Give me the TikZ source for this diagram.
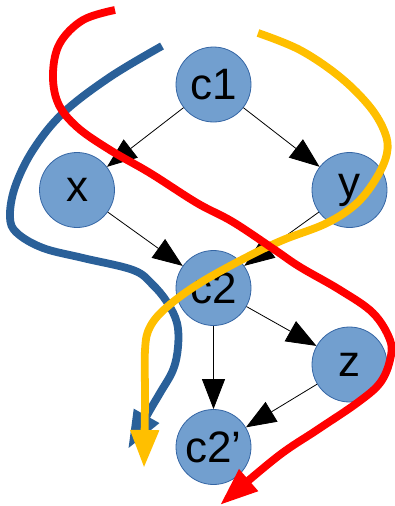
\documentclass[tikz,border=0pt]{standalone}
\usepackage{fontspec}
\setmainfont{Liberation Sans}
\usetikzlibrary{arrows.meta}
\definecolor{nodefill}{HTML}{729FCF}
\definecolor{nodeline}{HTML}{3465A4}
\definecolor{curveblue}{HTML}{2A6099}
\definecolor{curvegold}{HTML}{FFBF00}
\definecolor{curvered}{HTML}{FF0000}
\tikzset{
  vnode/.style={circle, fill=nodefill, draw=nodeline, line width=0.8pt, minimum size=75pt, inner sep=0pt, font=\fontsize{44}{44}\selectfont},
  edgearrow/.style={line width=0.8pt, -{Triangle[length=30pt,width=23pt]}, shorten >=0pt},
  bigcurve/.style={line width=7.8pt, -{Triangle[length=38pt,width=27pt]}},
}
\begin{document}
\begin{tikzpicture}[x=1pt,y=-1pt]
\useasboundingbox (0,0) rectangle (395,506);
\node[vnode] (c1) at (213.5,84.5) {c1};
\node[vnode] (x) at (77,190) {x};
\node[vnode] (y) at (349.5,190) {y};
\node[vnode] (c2) at (213.5,288) {c2};
\node[vnode] (z) at (349.5,364.5) {z};
\node[vnode] (c2p) at (213.5,447) {c2’};
\draw[edgearrow] (c1) -- (x);
\draw[edgearrow] (c1) -- (y);
\draw[edgearrow] (x) -- (c2);
\draw[edgearrow] (y) -- (c2);
\draw[edgearrow] (c2) -- (z);
\draw[edgearrow] (c2) -- (c2p);
\draw[edgearrow] (z) -- (c2p);
% blue curve
\draw[bigcurve, curveblue] plot[smooth, tension=0.6] coordinates {(162,46) (110,77) (63,113) (33,150) (15,187) (10,217) (17,233) (43,248) (83,258) (133,270) (152,284) (167,302) (177,323) (178,347) (173,370) (160,393) (150,410) (128,449)};
% gold curve
\draw[bigcurve, curvegold] plot[smooth, tension=0.6] coordinates {(258,33) (300,50) (340,77) (370,107) (385,133) (387,153) (377,177) (357,203) (327,223) (283,240) (247,257) (200,283) (167,307) (150,327) (145,350) (145,400) (144,468)};
% red curve
\draw[bigcurve, curvered] plot[smooth, tension=0.6] coordinates {(115,10) (83,20) (60,43) (53,73) (58,103) (77,127) (110,150) (150,173) (197,203) (233,222) (275,250) (300,267) (340,290) (373,313) (390,340) (390,360) (380,383) (357,403) (317,430) (277,457) (220,505)};
\end{tikzpicture}
\end{document}
